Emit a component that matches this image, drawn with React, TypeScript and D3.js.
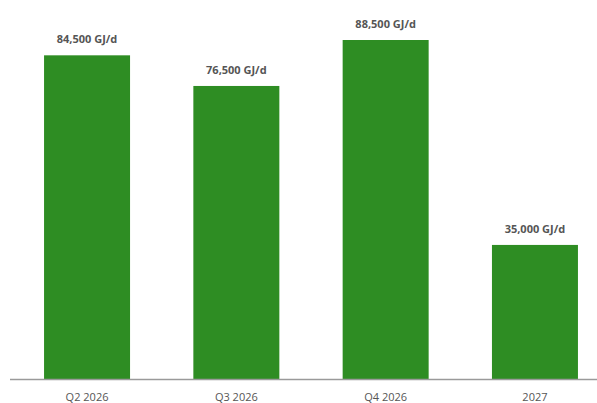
import React, { useEffect, useRef } from 'react';
import * as d3 from 'd3';

const categories = ['Q2 2026', 'Q3 2026', 'Q4 2026', '2027'];
const values = [84500, 76500, 88500, 35000];
const unit = 'GJ/d';

const width = 597;
const height = 403;

const App = () => {
  const ref = useRef<SVGSVGElement>(null);

  useEffect(() => {
    const svg = d3.select(ref.current);
    svg.selectAll('*').remove();

    const x = d3
      .scaleBand<string>()
      .domain(categories)
      .range([12.4, 609.6])
      .paddingInner(0.424)
      .paddingOuter(0.212);

    const y = d3.scaleLinear().domain([0, 88500]).range([379, 40]);

    const fmt = d3.format(',');

    // bars
    svg
      .selectAll('rect.bar')
      .data(values)
      .enter()
      .append('rect')
      .attr('class', 'bar')
      .attr('x', (_, i) => x(categories[i]) as number)
      .attr('width', x.bandwidth())
      .attr('y', (d) => y(d))
      .attr('height', (d) => y(0) - y(d))
      .attr('fill', '#2e8d23');

    // value labels
    svg
      .selectAll('text.value')
      .data(values)
      .enter()
      .append('text')
      .attr('class', 'value')
      .attr('x', (_, i) => (x(categories[i]) as number) + x.bandwidth() / 2)
      .attr('y', (d) => y(d) - 12)
      .attr('text-anchor', 'middle')
      .style('font-family', '"Open Sans", sans-serif')
      .style('font-size', '11px')
      .style('font-weight', 'bold')
      .style('fill', '#555')
      .text((d) => `${fmt(d)} ${unit}`);

    // axis line
    svg
      .append('line')
      .attr('x1', 10)
      .attr('x2', width)
      .attr('y1', 379.5)
      .attr('y2', 379.5)
      .attr('stroke', '#9a9a9a')
      .attr('stroke-width', 1.5);

    // category labels
    svg
      .selectAll('text.cat')
      .data(categories)
      .enter()
      .append('text')
      .attr('class', 'cat')
      .attr('x', (d) => (x(d) as number) + x.bandwidth() / 2)
      .attr('y', 401)
      .attr('text-anchor', 'middle')
      .style('font-family', '"Open Sans", sans-serif')
      .style('font-size', '11px')
      .style('fill', '#555')
      .text((d) => d);
  }, []);

  return (
    <svg
      ref={ref}
      width={width}
      height={height}
      style={{ position: 'absolute', left: 0, top: 0, background: '#fff' }}
    />
  );
};

export default App;
